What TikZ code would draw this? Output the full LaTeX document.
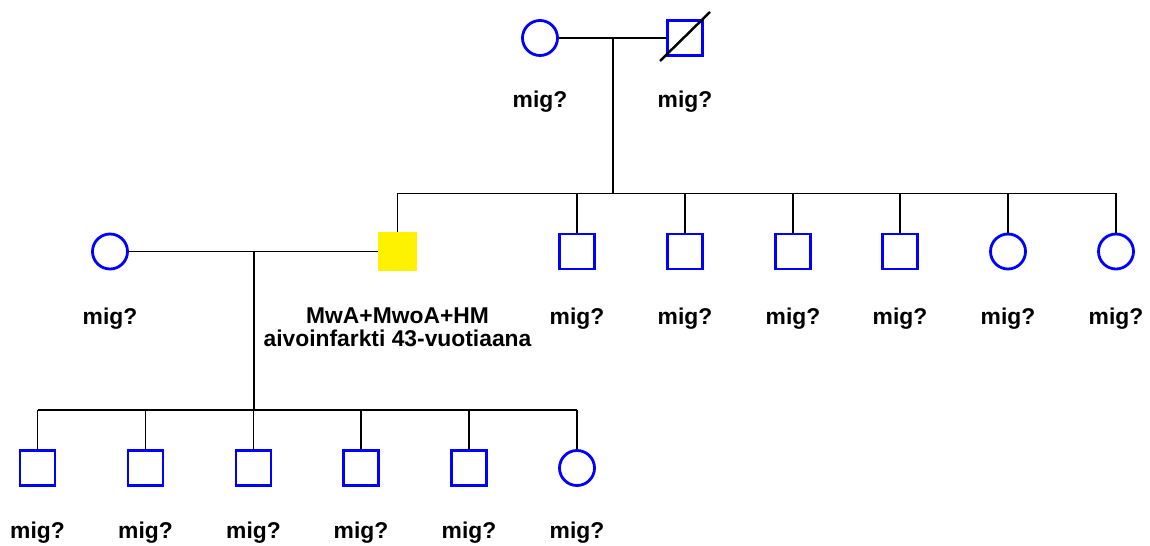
\documentclass[tikz,border=0pt]{standalone}
\usepackage{fontspec}
\setmainfont{Liberation Sans}
\begin{document}
\begin{tikzpicture}[x=0.02cm,y=-0.02cm,
        male/.style={rectangle,draw=blue,line width=1.6pt,minimum size=0.7cm,inner sep=0pt},
        female/.style={circle,draw=blue,line width=1.6pt,minimum size=0.7cm,inner sep=0pt},
        affected/.style={rectangle,fill=yellow,minimum size=0.77cm,inner sep=0pt},
        tag/.style={font=\fontsize{13}{12.8}\selectfont\bfseries,inner sep=0pt,anchor=base,align=center},
        rel/.style={line width=0.8pt}]
        \useasboundingbox (0,0) rectangle (1150,546);

        % grandparents
        \node[female] (gm) at (540,38) {};
        \node[male] (gf) at (685,38) {};
        \draw[line width=1.4pt] ([shift={(-25,23)}]gf.center) -- ([shift={(25,-26)}]gf.center);
        \node[tag] (lgm) at (540,108) {mig?};
        \node[tag] (lgf) at (685,108) {mig?};
        \coordinate (mA) at (613,38);
        \coordinate (sA) at (613,193.5);
        \draw[rel] (gm) -- (gf);
        \draw[rel] (mA) -- (sA);

        % their children
        \node[affected] (p) at (397.5,251.5) {};
        \node[male] (b2) at (577,251.5) {};
        \node[male] (b3) at (685,251.5) {};
        \node[male] (b4) at (793,251.5) {};
        \node[male] (b5) at (900,251.5) {};
        \node[female] (z1) at (1008,251.5) {};
        \node[female] (z2) at (1116,251.5) {};
        \draw[rel] (p.north |- sA) -- (z2.north |- sA);
        \foreach \k in {p,b2,b3,b4,b5,z1,z2}
            \draw[rel] (\k.north) -- (\k.north |- sA);
        \foreach \k in {b2,b3,b4,b5,z1,z2}
            \node[tag] (l\k) at (\k |- 0,325) {mig?};
        \node[tag,anchor=north] (lp) at (397.5,307.5) {MwA+MwoA+HM\\aivoinfarkti 43-vuotiaana};

        % spouse and grandchildren
        \node[female] (w) at (110,251.5) {};
        \node[tag] (lw) at (110,325) {mig?};
        \coordinate (mB) at (254,251.5);
        \coordinate (sB) at (254,410);
        \draw[rel] (w) -- (p);
        \draw[rel] (mB) -- (sB);

        \node[male] (c1) at (37.5,468) {};
        \node[male] (c2) at (145.5,468) {};
        \node[male] (c3) at (253.5,468) {};
        \node[male] (c4) at (361,468) {};
        \node[male] (c5) at (469,468) {};
        \node[female] (c6) at (577,468) {};
        \draw[rel] (c1.north |- sB) -- (c6.north |- sB);
        \foreach \k in {c1,c2,c3,c4,c5,c6} {
            \draw[rel] (\k.north) -- (\k.north |- sB);
            \node[tag] (l\k) at (\k |- 0,539) {mig?};
        }
\end{tikzpicture}
\end{document}
